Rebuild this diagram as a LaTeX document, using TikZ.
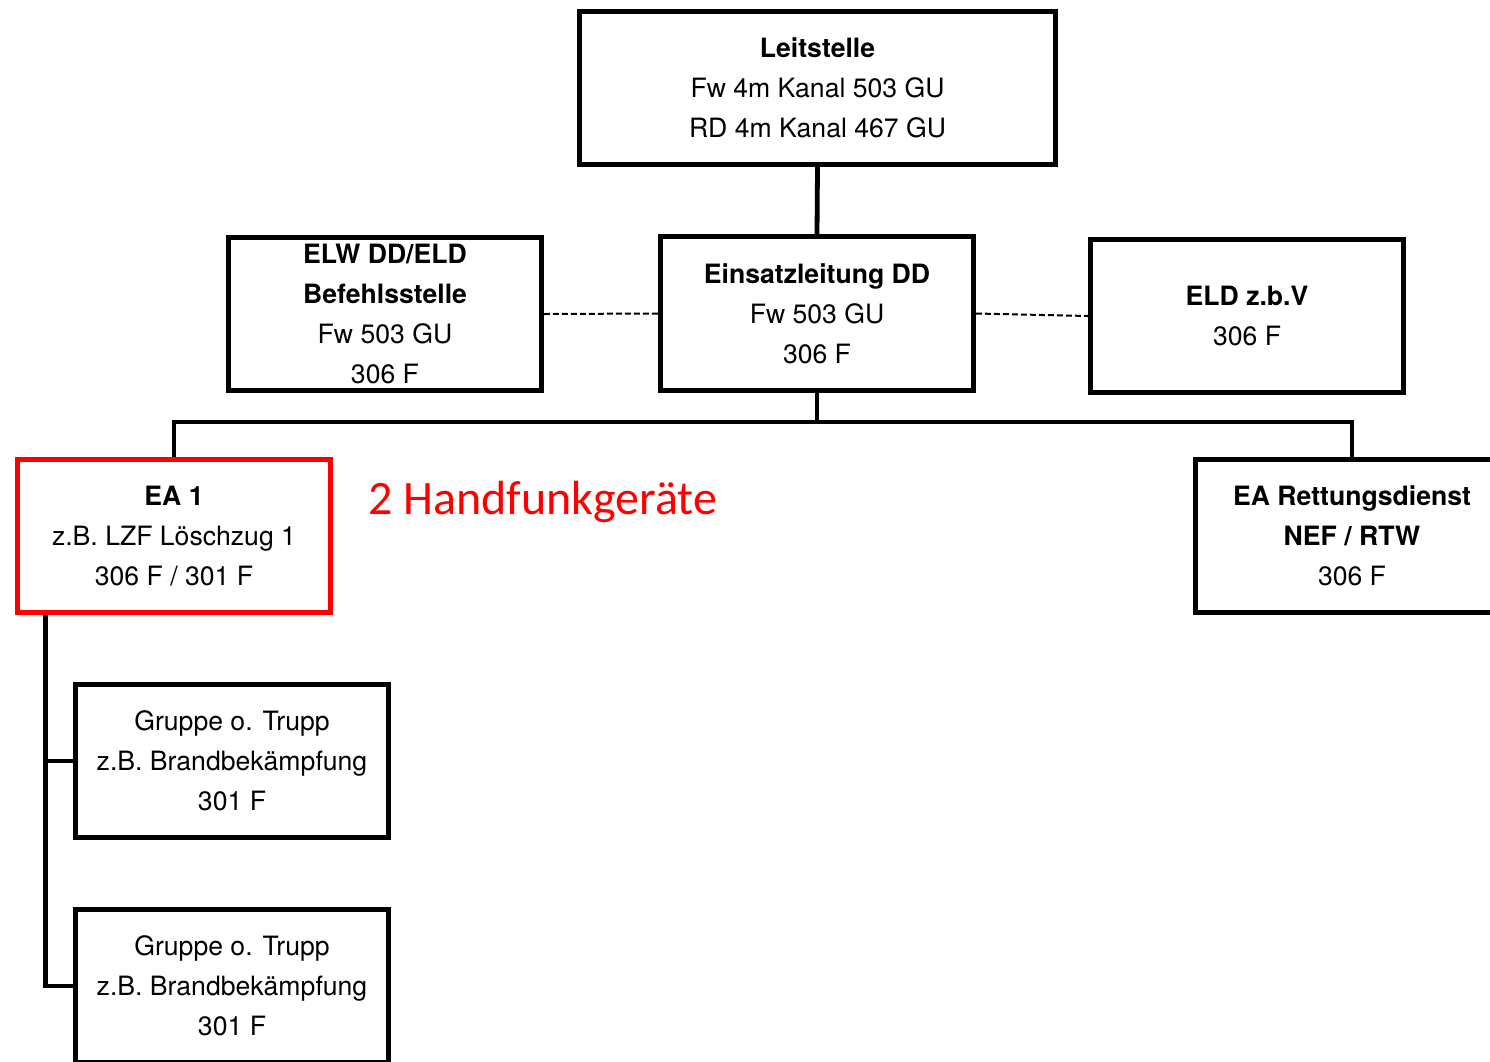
\documentclass[tikz,border=0pt]{standalone}
\usepackage{fontspec}
\setmainfont{TeX Gyre Heros}
\newfontfamily\calib{Carlito}
\begin{document}
\begin{tikzpicture}[x=1pt,y=-1pt,
  box/.style={draw=black, line width=4.8pt, rectangle, minimum width=313pt, minimum height=153pt,
    inner sep=0pt, align=center, font=\fontsize{26.6}{40}\selectfont},
  redbox/.style={box, draw=red},
  conn/.style={line width=4.8pt},
  dashconn/.style={line width=2pt, dash pattern=on 6pt off 3pt}]
\useasboundingbox (0,0) rectangle (1490,1061);
\clip (0,0) rectangle (1490,1061);
\node[box, minimum width=476pt] (leit) at (817.5,88) {\textbf{Leitstelle}\\Fw 4m Kanal 503 GU\\RD 4m Kanal 467 GU};
\node[box] (elw) at (385,314) {\textbf{ELW DD/ELD}\\\textbf{Befehlsstelle}\\Fw 503 GU\\306 F};
\node[box, minimum height=154pt] (ein) at (817,313.5) {\textbf{Einsatzleitung DD}\\Fw 503 GU\\306 F};
\node[box] (eld) at (1247,316) {\textbf{ELD z.b.V}\\306 F};
\node[redbox] (ea1) at (174,536) {\textbf{EA 1}\\z.B. LZF Löschzug 1\\306 F / 301 F};
\node[box] (eard) at (1352,536) {\textbf{EA Rettungsdienst}\\\textbf{NEF / RTW}\\306 F};
\node[box] (g1) at (232,761) {Gruppe o. Trupp\\z.B. Brandbekämpfung\\301 F};
\node[box] (g2) at (232,986) {Gruppe o. Trupp\\z.B. Brandbekämpfung\\301 F};
\node[anchor=base west, text=red, inner sep=0pt, font=\calib\fontsize{48}{52}\selectfont] (hf) at (368,514) {2 Handfunkgeräte};
\draw[conn] (leit.south) -- (ein.north);
\draw[conn] (ein.south) -- ++(0,29) -| (ea1.north);
\draw[conn] (ein.south) -- ++(0,29) -| (eard.north);
\draw[dashconn] (elw.east) -- (ein.west);
\draw[dashconn] (ein.east) -- (eld.west);
\coordinate (v) at ([xshift=30pt]ea1.south west);
\draw[conn] (v) |- (g1.west);
\draw[conn] (v) |- (g2.west);
\end{tikzpicture}
\end{document}
